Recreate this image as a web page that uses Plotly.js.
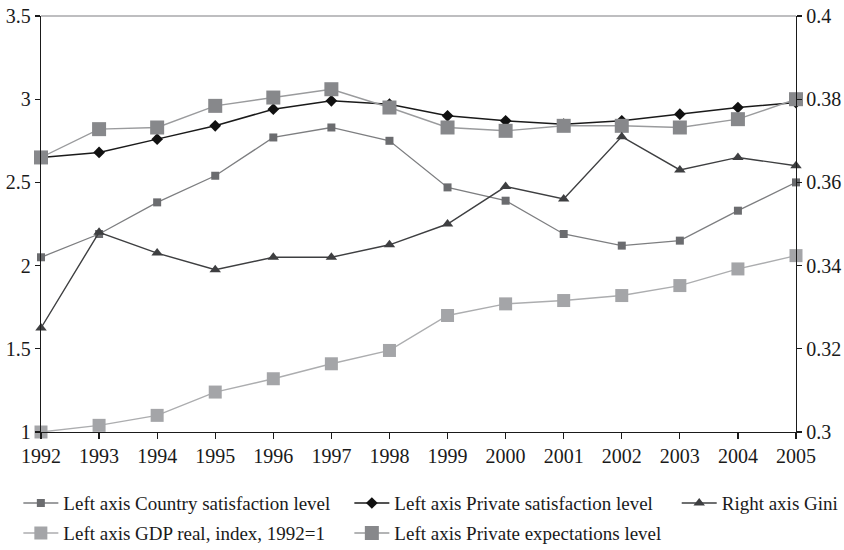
<!DOCTYPE html>
<html>
<head>
<meta charset="utf-8">
<script src="https://cdn.plot.ly/plotly-3.0.1.min.js"></script>
<style>html,body{margin:0;padding:0;background:#fff;}#chart{width:844px;height:550px;}</style>
</head>
<body>
<div id="chart"></div>
<script>
var years = [1992,1993,1994,1995,1996,1997,1998,1999,2000,2001,2002,2003,2004,2005];
var countrySatisfaction = [2.05,2.19,2.38,2.54,2.77,2.83,2.75,2.47,2.39,2.19,2.12,2.15,2.33,2.50];
var privateSatisfaction = [2.65,2.68,2.76,2.84,2.94,2.99,2.97,2.90,2.87,2.85,2.87,2.91,2.95,2.98];
var gini = [0.325,0.348,0.343,0.339,0.342,0.342,0.345,0.350,0.359,0.356,0.371,0.363,0.366,0.364];
var gdpIndex = [1.00,1.04,1.10,1.24,1.32,1.41,1.49,1.70,1.77,1.79,1.82,1.88,1.98,2.06];
var privateExpectations = [2.65,2.82,2.83,2.96,3.01,3.06,2.95,2.83,2.81,2.84,2.84,2.83,2.88,3.00];
var names = ["Left axis Country satisfaction level","Left axis Private satisfaction level","Right axis Gini","Left axis GDP real, index, 1992=1","Left axis Private expectations level"];

var FONT = "Liberation Serif, Times New Roman, serif";

var traces = [
  {x: years, y: countrySatisfaction, name: names[0], type: 'scatter', mode: 'lines+markers',
   line: {color: '#7d7e80', width: 1.3}, marker: {symbol: 'square', size: 8, color: '#6b6c6f'},
   cliponaxis: false, legend: 'legend'},
  {x: years, y: privateSatisfaction, name: names[1], type: 'scatter', mode: 'lines+markers',
   line: {color: '#1a1a1a', width: 1.5}, marker: {symbol: 'diamond', size: 9, color: '#111111'},
   cliponaxis: false, legend: 'legend'},
  {x: years, y: gini, name: names[2], type: 'scatter', mode: 'lines+markers', yaxis: 'y2',
   line: {color: '#3e3f41', width: 1.4}, marker: {symbol: 'triangle-up', size: 10, color: '#3e3f41'},
   cliponaxis: false, legend: 'legend3'},
  {x: years, y: gdpIndex, name: names[3], type: 'scatter', mode: 'lines+markers',
   line: {color: '#acadaf', width: 1.4}, marker: {symbol: 'square', size: 13, color: '#a4a5a8'},
   cliponaxis: false, legend: 'legend2'},
  {x: years, y: privateExpectations, name: names[4], type: 'scatter', mode: 'lines+markers',
   line: {color: '#9a9b9d', width: 1.4}, marker: {symbol: 'square', size: 14, color: '#87888b'},
   cliponaxis: false, legend: 'legend2'}
];

var tickFont = {family: FONT, size: 20, color: '#1a1a1a'};
var legFont = {family: FONT, size: 19, color: '#1a1a1a'};
function leg(x, y) {
  return {orientation: 'h', x: x, xanchor: 'left', y: y, yanchor: 'middle', font: legFont,
          itemwidth: 35, entrywidth: 281, bgcolor: 'rgba(0,0,0,0)', traceorder: 'normal'};
}
var layout = {
  width: 844, height: 550,
  margin: {l: 41, r: 48, t: 16, b: 118, autoexpand: false},
  paper_bgcolor: '#ffffff', plot_bgcolor: '#ffffff',
  font: {family: FONT, color: '#1a1a1a'},
  showlegend: true,
  xaxis: {range: [1992, 2005], tickvals: years, ticktext: years.map(String),
          showgrid: false, zeroline: false, showline: true, linecolor: '#1a1a1a', linewidth: 1.3,
          ticks: 'outside', ticklen: 6, tickcolor: '#1a1a1a', tickwidth: 1.2, tickfont: tickFont},
  yaxis: {range: [1, 3.5], dtick: 0.5, showgrid: false, zeroline: false, showline: true,
          linecolor: '#1a1a1a', linewidth: 1.3, ticks: 'outside', ticklen: 5, tickcolor: '#1a1a1a',
          tickwidth: 1.2, tickfont: tickFont},
  yaxis2: {range: [0.3, 0.4], dtick: 0.02, overlaying: 'y', side: 'right', showgrid: false, zeroline: false,
           showline: true, linecolor: '#1a1a1a', linewidth: 1.3, ticks: 'outside', ticklen: 5,
           tickcolor: '#1a1a1a', tickwidth: 1.2, tickfont: tickFont},
  xaxis2: {range: [1992, 2005], tickvals: years, overlaying: 'x', anchor: 'y', showticklabels: false,
           showgrid: false, zeroline: false, showline: false, ticks: 'inside', ticklen: 6,
           tickcolor: '#1a1a1a', tickwidth: 1.2},
  yaxis3: {range: [1, 3.5], dtick: 0.5, overlaying: 'y', side: 'left', showticklabels: false,
           showgrid: false, zeroline: false, showline: false, ticks: 'inside', ticklen: 5,
           tickcolor: '#1a1a1a', tickwidth: 1.2},
  yaxis4: {range: [0.3, 0.4], dtick: 0.02, overlaying: 'y', side: 'right', showticklabels: false,
           showgrid: false, zeroline: false, showline: false, ticks: 'inside', ticklen: 5,
           tickcolor: '#1a1a1a', tickwidth: 1.2},
  shapes: [{type: 'line', xref: 'paper', yref: 'paper', x0: 0, x1: 1, y0: 1, y1: 1,
            line: {color: '#a8a9ab', width: 1.3}}],
  legend: leg(-0.030, -0.171),
  legend3: leg(0.842, -0.171),
  legend2: leg(-0.030, -0.243)
};

Plotly.newPlot('chart', traces, layout, {displayModeBar: false, staticPlot: true});
</script>
</body>
</html>
